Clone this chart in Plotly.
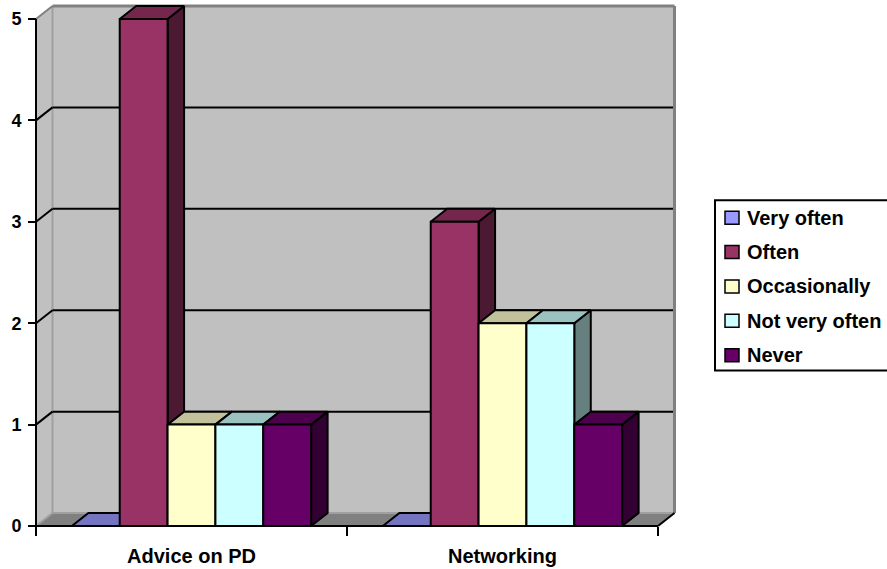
import plotly.graph_objects as go

# ---- data -------------------------------------------------------------
categories = ["Advice on PD", "Networking"]
series_names = ["Very often", "Often", "Occasionally", "Not very often", "Never"]
very_often = [0, 0]
often = [5, 3]
occasionally = [1, 2]
not_very_often = [1, 2]
never = [1, 1]
y_tick_values = [0, 1, 2, 3, 4, 5]

series_values = [very_often, often, occasionally, not_very_often, never]
front_colors = ["#9999FF", "#993366", "#FFFFCC", "#CCFFFF", "#660066"]

# ---- geometry of the pseudo-3D scene (pixels -> axis units) ----------
W, H = 887, 569
PLOT_L, PLOT_R, PLOT_T, PLOT_B = 30, 681, 2, 534   # plot area in pixels
FRONT_X0, FRONT_Y0 = 36, 528                       # front-left origin pixel
PX_PER_X = 311.0                                   # pixels per category
PX_PER_Y = 101.8                                   # pixels per unit value
DEPTH_PX = (16.5, 13.0)                            # receding depth offset

x_min = -0.5 - (FRONT_X0 - PLOT_L) / PX_PER_X
x_max = x_min + (PLOT_R - PLOT_L) / PX_PER_X
y_min = -(PLOT_B - FRONT_Y0) / PX_PER_Y
y_max = y_min + (PLOT_B - PLOT_T) / PX_PER_Y
DX = DEPTH_PX[0] / PX_PER_X
DY = DEPTH_PX[1] / PX_PER_Y

n_cat = len(categories)
x_left, x_right = -0.5, n_cat - 0.5
y_top = max(y_tick_values)
GAP_WIDTH = 1.5                                    # gap as a multiple of bar width
bar_w = 1.0 / (len(series_names) + GAP_WIDTH)


def shade(hex_color, f):
    h = hex_color.lstrip("#")
    r, g, b = (int(h[i:i + 2], 16) for i in (0, 2, 4))
    return "#{:02X}{:02X}{:02X}".format(int(r * f), int(g * f), int(b * f))


def paper_x(px):
    return (px - PLOT_L) / (PLOT_R - PLOT_L)


def paper_y(py):
    return (PLOT_B - py) / (PLOT_B - PLOT_T)


def poly_path(pts):
    return "M " + " L ".join(f"{x},{y}" for x, y in pts) + " Z"


shapes = []

# walls and floor
shapes.append(dict(type="path", xref="x", yref="y", layer="below",
                   path=poly_path([(x_left + DX, DY), (x_right + DX, DY),
                                   (x_right + DX, y_top + DY), (x_left + DX, y_top + DY)]),
                   fillcolor="#C0C0C0", line=dict(width=0)))
shapes.append(dict(type="path", xref="x", yref="y", layer="below",
                   path=poly_path([(x_left, 0), (x_left + DX, DY),
                                   (x_left + DX, y_top + DY), (x_left, y_top)]),
                   fillcolor="#C0C0C0", line=dict(width=0)))
shapes.append(dict(type="path", xref="x", yref="y", layer="below",
                   path=poly_path([(x_left, 0), (x_right, 0),
                                   (x_right + DX, DY), (x_left + DX, DY)]),
                   fillcolor="#808080", line=dict(width=0)))


def seg(xa, ya, xb, yb, color, width, layer="below"):
    shapes.append(dict(type="line", xref="x", yref="y", layer=layer,
                       x0=xa, y0=ya, x1=xb, y1=yb,
                       line=dict(color=color, width=width)))


# wall edges
seg(x_left + DX, DY, x_left + DX, y_top + DY, "#A0A0A0", 2)
seg(x_left + DX, DY, x_right + DX, DY, "#A0A0A0", 2)
seg(x_left, 0, x_left + DX, DY, "#A0A0A0", 2)

# gridlines across the side and back walls
for v in y_tick_values[1:-1]:
    seg(x_left, v, x_left + DX, v + DY, "#000000", 2)
    seg(x_left + DX, v + DY, x_right + DX, v + DY, "#000000", 2)

seg(x_left, y_top, x_left + DX, y_top + DY, "#808080", 2)
seg(x_left + DX, y_top + DY, x_right + DX, y_top + DY, "#808080", 3)
seg(x_right + DX, DY, x_right + DX, y_top + DY, "#808080", 3)

# front axis lines and floor edge
seg(x_left, 0, x_left, y_top, "#000000", 2, "above")
seg(x_left, 0, x_right, 0, "#000000", 2, "above")
seg(x_right, 0, x_right + DX, DY, "#000000", 2, "above")

# ---- bars: side, top and front faces ---------------------------------
fig = go.Figure()


def add_face(xs, ys, color):
    fig.add_trace(go.Scatter(x=xs, y=ys, mode="lines", fill="toself",
                             fillcolor=color, line=dict(color="#000000", width=2),
                             hoverinfo="skip", showlegend=False))


for s, (name, vals, col) in enumerate(zip(series_names, series_values, front_colors)):
    side_x, side_y, top_x, top_y, front_x, front_y = [], [], [], [], [], []
    for c, v in enumerate(vals):
        x0 = c - 0.5 * len(series_names) * bar_w + s * bar_w
        x1 = x0 + bar_w
        side_x += [x1, x1 + DX, x1 + DX, x1, x1, None]
        side_y += [0, DY, v + DY, v, 0, None]
        top_x += [x0, x1, x1 + DX, x0 + DX, x0, None]
        top_y += [v, v, v + DY, v + DY, v, None]
        front_x += [x0, x1, x1, x0, x0, None]
        front_y += [0, 0, v, v, 0, None]
    add_face(side_x, side_y, shade(col, 0.5))
    add_face(top_x, top_y, shade(col, 0.76))
    add_face(front_x, front_y, col)

# ---- legend box ------------------------------------------------------
FONT = "Liberation Sans, Arial, sans-serif"
annotations = []
shapes.append(dict(type="rect", xref="paper", yref="paper", layer="above",
                   x0=paper_x(715), x1=paper_x(900), y0=paper_y(372), y1=paper_y(201),
                   fillcolor="#FFFFFF", line=dict(color="#000000", width=2)))
for i, (name, col) in enumerate(zip(series_names, front_colors)):
    cy = 218.5 + i * 34.5
    shapes.append(dict(type="rect", xref="paper", yref="paper", layer="above",
                       x0=paper_x(725), x1=paper_x(739),
                       y0=paper_y(cy + 6.5), y1=paper_y(cy - 6.5),
                       fillcolor=col, line=dict(color="#000000", width=1.5)))
    annotations.append(dict(xref="paper", yref="paper", x=paper_x(745), y=paper_y(cy),
                            xanchor="left", yanchor="middle", showarrow=False,
                            text=name,
                            font=dict(family=FONT, size=20, color="#000000", weight="bold")))

fig.update_layout(
    width=W, height=H,
    margin=dict(l=PLOT_L, r=W - PLOT_R, t=PLOT_T, b=H - PLOT_B, pad=0),
    paper_bgcolor="#FFFFFF", plot_bgcolor="#FFFFFF",
    showlegend=False,
    shapes=shapes,
    annotations=annotations,
    xaxis=dict(range=[x_min, x_max], anchor="free",
               position=(PLOT_B - FRONT_Y0) / (PLOT_B - PLOT_T),
               tickmode="array", tickvals=list(range(n_cat)), ticktext=categories,
               ticks="", ticklabelstandoff=16,
               tickfont=dict(family=FONT, size=20, color="#000000", weight="bold"),
               minor=dict(tickmode="array", tickvals=[x_left + i for i in range(n_cat + 1)],
                          ticks="outside", ticklen=9, tickwidth=2, tickcolor="#000000",
                          showgrid=False),
               showgrid=False, zeroline=False, showline=False, fixedrange=True),
    yaxis=dict(range=[y_min, y_max], anchor="free",
               position=(FRONT_X0 - PLOT_L) / (PLOT_R - PLOT_L),
               tickmode="array", tickvals=y_tick_values,
               ticks="outside", ticklen=8, tickwidth=2, tickcolor="#000000",
               ticklabelstandoff=3,
               tickfont=dict(family=FONT, size=18, color="#000000", weight="bold"),
               showgrid=False, zeroline=False, showline=False, fixedrange=True),
)

fig.write_html("out.html")
